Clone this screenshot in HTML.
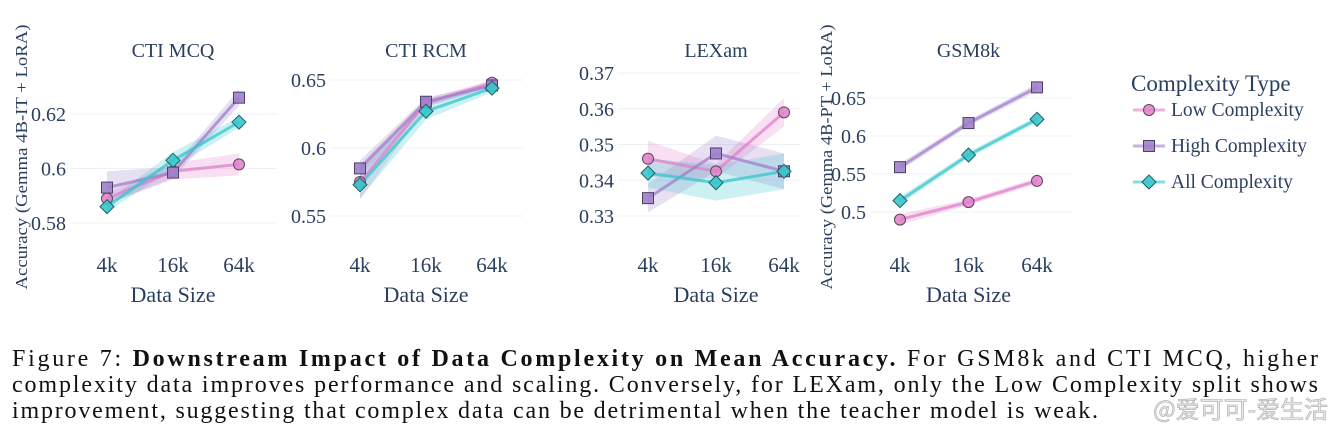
<!DOCTYPE html>
<html><head><meta charset="utf-8"><style>
html,body{margin:0;padding:0;background:#fff;}
svg{display:block;}
.tk{font-family:"Liberation Serif","DejaVu Serif",serif;font-size:19px;fill:#2a3f5f;}
.ttl{font-family:"Liberation Serif","DejaVu Serif",serif;font-size:20px;fill:#2a3f5f;}
.ax{font-family:"Liberation Serif","DejaVu Serif",serif;font-size:22px;fill:#2a3f5f;}
.cap{font-family:"Liberation Serif","DejaVu Serif",serif;font-size:24px;fill:#111;}
</style></head><body>
<svg id="fig" width="1334" height="442" viewBox="0 0 1334 442" xmlns="http://www.w3.org/2000/svg">
<g id="charts"></g>
<g id="legend"></g>
<text class="cap" x="12" y="366" textLength="1306" lengthAdjust="spacing">Figure 7: <tspan font-weight="bold">Downstream Impact of Data Complexity on Mean Accuracy.</tspan> For GSM8k and CTI MCQ, higher</text>
<text class="cap" x="12" y="392" textLength="1306" lengthAdjust="spacing">complexity data improves performance and scaling. Conversely, for LEXam, only the Low Complexity split shows</text>
<text class="cap" x="12" y="418" textLength="1086" lengthAdjust="spacing">improvement, suggesting that complex data can be detrimental when the teacher model is weak.</text>
<text x="1328" y="418" text-anchor="end" font-family="'Noto Sans CJK SC',sans-serif" font-size="24" fill="#e8e8e8" stroke="#aaa" stroke-width="0.6">@爱可可-爱生活</text>
</svg>
<script>
const categories = ["4k","16k","64k"];
const panelTitles = ["CTI MCQ","CTI RCM","LEXam","GSM8k"];
const seriesNames = ["Low Complexity","High Complexity","All Complexity"];
const mcqLow=[0.589,0.599,0.6015], mcqHigh=[0.593,0.5985,0.626], mcqAll=[0.586,0.603,0.617];
const rcmLow=[0.575,0.633,0.648], rcmHigh=[0.585,0.634,0.646], rcmAll=[0.573,0.627,0.644];
const lexLow=[0.346,0.3425,0.359], lexHigh=[0.335,0.3475,0.3425], lexAll=[0.342,0.3393,0.3425];
const gsmLow=[0.49,0.513,0.541], gsmHigh=[0.559,0.617,0.664], gsmAll=[0.515,0.575,0.622];
const mcqErrLow=[0.002,0.003,0.004], mcqErrHigh=[0.006,0.002,0.003], mcqErrAll=[0.002,0.003,0.002];
const rcmErrLow=[0.013,0.003,0.002], rcmErrHigh=[0.006,0.003,0.002], rcmErrAll=[0.01,0.006,0.003];
const lexErrLow=[0.005,0.002,0.004], lexErrHigh=[0.004,0.005,0.005], lexErrAll=[0.004,0.005,0.005];
const gsmErrLow=[0.007,0.004,0.004], gsmErrHigh=[0.005,0.004,0.005], gsmErrAll=[0.005,0.004,0.004];
const mcqTicks=[0.58,0.6,0.62], rcmTicks=[0.55,0.6,0.65], lexTicks=[0.33,0.34,0.35,0.36,0.37], gsmTicks=[0.5,0.55,0.6,0.65];
const tickText=[["0.58","0.6","0.62"],["0.55","0.6","0.65"],["0.33","0.34","0.35","0.36","0.37"],["0.5","0.55","0.6","0.65"]];

const panels=[
 {vals:[mcqLow,mcqHigh,mcqAll],errs:[mcqErrLow,mcqErrHigh,mcqErrAll],ticks:mcqTicks,x0:107,x1:239,v0:0.58,p0:223,v1:0.62,p1:114,gl:70,gr:277,ylab:"Accuracy (Gemma 4B-IT + LoRA)",yx:27},
 {vals:[rcmLow,rcmHigh,rcmAll],errs:[rcmErrLow,rcmErrHigh,rcmErrAll],ticks:rcmTicks,x0:360,x1:492,v0:0.55,p0:216,v1:0.65,p1:80,gl:330,gr:523},
 {vals:[lexLow,lexHigh,lexAll],errs:[lexErrLow,lexErrHigh,lexErrAll],ticks:lexTicks,x0:648,x1:784,v0:0.33,p0:216,v1:0.37,p1:73,gl:618,gr:800},
 {vals:[gsmLow,gsmHigh,gsmAll],errs:[gsmErrLow,gsmErrHigh,gsmErrAll],ticks:gsmTicks,x0:900,x1:1037,v0:0.5,p0:212,v1:0.65,p1:98,gl:870,gr:1072,ylab:"Accuracy (Gemma 4B-PT + LoRA)",yx:832}
];
const colors=["#e27fc9","#9f7fcb","#36c6cc"];
const marker=["circle","square","diamond"];
const NS="http://www.w3.org/2000/svg";
const root=document.getElementById("charts");
function mk(tag,attrs,parent){const e=document.createElementNS(NS,tag);for(const k in attrs)e.setAttribute(k,attrs[k]);(parent||root).appendChild(e);return e;}
function drawMarker(g,type,x,y,c){
  let m;
  if(type==="circle") m=mk("circle",{cx:x,cy:y,r:5.5,fill:c,stroke:"#5a4560","stroke-width":1,"fill-opacity":0.85},g);
  else if(type==="square") m=mk("rect",{x:x-5.5,y:y-5.5,width:11,height:11,fill:c,stroke:"#4d3f66","stroke-width":1,"fill-opacity":0.9},g);
  else m=mk("polygon",{points:`${x},${y-7} ${x+7},${y} ${x},${y+7} ${x-7},${y}`,fill:c,stroke:"#1f5f66","stroke-width":1,"fill-opacity":0.9},g);
  return m;
}
panels.forEach((p,pi)=>{
  const g=mk("g",{});
  
  
  const xs=i=>p.x0+(p.x1-p.x0)*i/(categories.length-1);
  const ys=v=>p.p0+(v-p.v0)*(p.p1-p.p0)/(p.v1-p.v0);
  p.ticks.forEach((t,ti)=>{
    const l=mk("line",{x1:p.gl,x2:p.gr,y1:ys(t),y2:ys(t),stroke:"#eef0f4","stroke-width":1},g);
    
    
    const tx=mk("text",{x:p.gl-4,y:ys(t)+7,"text-anchor":"end",class:"tk",style:"font-size:20px"},g);
    
    
    tx.textContent=tickText[pi][ti];
  });
  categories.forEach((c,i)=>{
    const tx=mk("text",{x:xs(i),y:272,"text-anchor":"middle",class:"tk",style:"font-size:21px"},g);
    
    
    tx.textContent=c;
  });
  const tt=mk("text",{x:xs(1),y:57,"text-anchor":"middle",class:"ttl"},g);
  
  
  tt.textContent=panelTitles[pi];
  const xl=mk("text",{x:xs(1),y:302,"text-anchor":"middle",class:"ax"},g);
  
  
  xl.textContent="Data Size";
  if(p.ylab){
    const yl=mk("text",{x:0,y:0,"text-anchor":"middle",class:"tk",style:"font-size:17px",transform:`translate(${p.yx},157) rotate(-90)`,textLength:265,lengthAdjust:"spacingAndGlyphs"},g);
    
    
    yl.textContent=p.ylab;
  }
  p.vals.forEach((vals,si)=>{
    const e=p.errs[si];
    const up=vals.map((v,i)=>xs(i)+","+ys(v+e[i]));
    const dn=vals.map((v,i)=>xs(i)+","+ys(v-e[i])).reverse();
    const band=mk("polygon",{points:up.concat(dn).join(" "),fill:colors[si],"fill-opacity":0.25},g);
    
    
  });
  p.vals.forEach((vals,si)=>{
    const line=mk("polyline",{points:vals.map((v,i)=>xs(i)+","+ys(v)).join(" "),fill:"none",stroke:colors[si],"stroke-width":3,"stroke-opacity":0.75},g);
    
    
  });
  p.vals.forEach((vals,si)=>{
    vals.forEach((v,i)=>{
      const m=drawMarker(g,marker[si],xs(i),ys(v),colors[si]);
      
      
    });
  });
});
const lg=document.getElementById("legend");
const lt=mk("text",{x:1131,y:91,class:"ax",style:"font-size:23px"},lg);


lt.textContent="Complexity Type";
seriesNames.forEach((n,si)=>{
  const y=110+36*si;
  const e=mk("g",{},lg);
  
  
  mk("line",{x1:1133,x2:1165,y1:y,y2:y,stroke:colors[si],"stroke-width":3,"stroke-opacity":0.6},e);
  drawMarker(e,marker[si],1149,y,colors[si]);
  const t=mk("text",{x:1171,y:y+6,class:"tk",style:"font-size:19.5px"},e);
  t.textContent=n;
});
</script>
</body></html>
